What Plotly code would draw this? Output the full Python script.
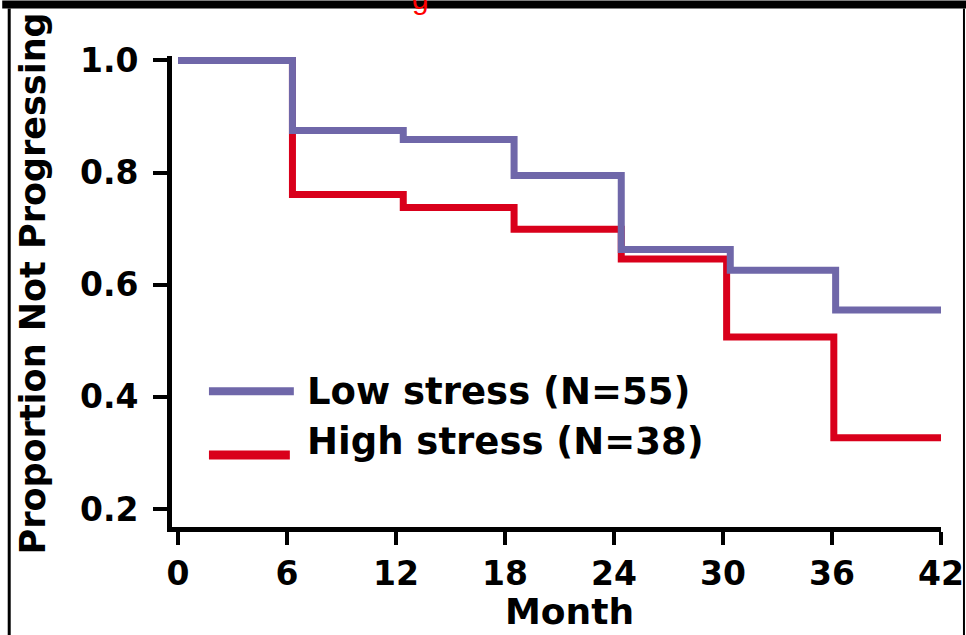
import plotly.graph_objects as go

# ---- data ----
low_months = [0, 6.3, 12.4, 18.5, 24.4, 30.4, 36.2, 42.3]
low_surv = [1.0, 0.875, 0.859, 0.795, 0.663, 0.626, 0.555, 0.555]
high_months = [0, 6.3, 12.4, 18.5, 24.4, 30.2, 36.1, 42.3]
high_surv = [1.0, 0.761, 0.738, 0.699, 0.646, 0.507, 0.327, 0.327]
x_ticks = [0, 6, 12, 18, 24, 30, 36, 42]
y_ticks = [0.2, 0.4, 0.6, 0.8, 1.0]
y_tick_labels = ["0.2", "0.4", "0.6", "0.8", "1.0"]
series_names = ["Low stress (N=55)", "High stress (N=38)"]

PURPLE = "#6f67a9"
RED = "#d9001b"
FONT = "DejaVu Sans"

# page appears horizontally squeezed by the capture; compensate
REF_W = 966
W, H = 976, 635
S = REF_W / W
ML = 170 / S
MR = W - 940 / S
MT, MB = 55.5, 108
PW, PH = W - ML - MR, H - MT - MB


def px_x(p):
    return (p / S - ML) / PW


def px_y(p):
    return 1 - (p - MT) / PH


fig = go.Figure()
fig.add_trace(go.Scatter(x=high_months, y=high_surv, mode="lines", line_shape="hv",
                         line=dict(color=RED, width=7), name=series_names[1], showlegend=False))
fig.add_trace(go.Scatter(x=low_months, y=low_surv, mode="lines", line_shape="hv",
                         line=dict(color=PURPLE, width=7), name=series_names[0], showlegend=False))

shapes = [
    # top black bar
    dict(type="rect", xref="paper", yref="paper", x0=px_x(0), x1=px_x(REF_W), y0=px_y(8), y1=px_y(0),
         fillcolor="black", line=dict(width=0), layer="above"),
    # left and right borders
    dict(type="line", xref="paper", yref="paper", x0=px_x(7), x1=px_x(7), y0=px_y(8), y1=px_y(H),
         line=dict(color="black", width=3)),
    dict(type="line", xref="paper", yref="paper", x0=px_x(963), x1=px_x(963), y0=px_y(8), y1=px_y(H),
         line=dict(color="black", width=2)),
    # legend samples
    dict(type="line", xref="paper", yref="paper", x0=px_x(207), x1=px_x(292), y0=px_y(391), y1=px_y(391),
         line=dict(color=PURPLE, width=8)),
    dict(type="line", xref="paper", yref="paper", x0=px_x(207), x1=px_x(288), y0=px_y(455), y1=px_y(455),
         line=dict(color=RED, width=9)),
]

annotations = [
    dict(text=series_names[0], xref="paper", yref="paper", x=px_x(303), y=px_y(391), xanchor="left",
         yanchor="middle", showarrow=False, font=dict(family=FONT, size=37, color="black", weight="bold")),
    dict(text=series_names[1], xref="paper", yref="paper", x=px_x(303), y=px_y(441), xanchor="left",
         yanchor="middle", showarrow=False, font=dict(family=FONT, size=37, color="black", weight="bold")),
    dict(text="Proportion Not Progressing", xref="paper", yref="paper", x=px_x(31), y=px_y(283),
         xanchor="center", yanchor="middle", textangle=-90, showarrow=False,
         font=dict(family=FONT, size=35, color="black", weight="bold")),
    dict(text="Month", xref="paper", yref="paper", x=px_x(568), y=px_y(612), xanchor="center",
         yanchor="middle", showarrow=False, font=dict(family=FONT, size=36, color="black", weight="bold")),
    dict(text="g", xref="paper", yref="paper", x=px_x(419), y=px_y(-2), xanchor="center",
         yanchor="middle", showarrow=False, font=dict(family="Liberation Sans", size=30, color="red")),
]

fig.update_layout(
    width=W, height=H,
    margin=dict(l=ML, r=MR, t=MT, b=MB, pad=0),
    paper_bgcolor="white", plot_bgcolor="white",
    shapes=shapes, annotations=annotations,
    showlegend=False,
)
fig.update_xaxes(range=[-0.33, 42], tickvals=x_ticks, showgrid=False, zeroline=False,
                 showline=True, linecolor="black", linewidth=5,
                 ticks="outside", ticklen=13, tickwidth=4, tickcolor="black",
                 tickfont=dict(family=FONT, size=33, color="black", weight="bold"),
                 ticklabelstandoff=0)
fig.update_yaxes(range=[0.168, 1.008], tickvals=y_ticks, ticktext=y_tick_labels, showgrid=False,
                 zeroline=False, showline=True, linecolor="black", linewidth=5,
                 ticks="outside", ticklen=14, tickwidth=4, tickcolor="black",
                 tickfont=dict(family=FONT, size=33, color="black", weight="bold"),
                 ticklabelstandoff=8)

fig.write_html("out.html", config={"displayModeBar": False},
               post_script=("document.documentElement.style.margin='0';"
                            "document.documentElement.style.overflow='hidden';"
                            "document.body.style.margin='0';document.body.style.padding='0';"
                            "document.body.style.overflow='hidden';"))
